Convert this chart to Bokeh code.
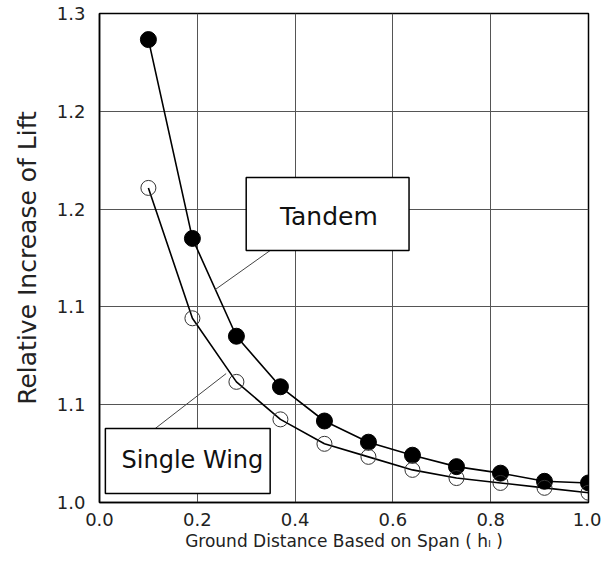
from bokeh.plotting import figure
from bokeh.models import FixedTicker, BoxAnnotation, Label, ColumnDataSource
from bokeh.embed import file_html
from bokeh.resources import INLINE

# ---- data ----
ground_distance = [0.10, 0.19, 0.28, 0.37, 0.46, 0.55, 0.64, 0.73, 0.82, 0.91, 1.00]
tandem_lift = [1.284, 1.162, 1.102, 1.071, 1.050, 1.037, 1.029, 1.022, 1.018, 1.013, 1.012]
single_lift = [1.193, 1.113, 1.074, 1.051, 1.036, 1.028, 1.020, 1.015, 1.012, 1.009, 1.006]

x_ticks = [0.0, 0.2, 0.4, 0.6, 0.8, 1.0]
x_tick_labels = ["0.0", "0.2", "0.4", "0.6", "0.8", "1.0"]
y_ticks = [1.00, 1.06, 1.12, 1.18, 1.24, 1.30]
y_tick_labels = ["1.0", "1.1", "1.1", "1.2", "1.2", "1.3"]

FONT = "DejaVu Sans"

p = figure(width=601, height=563, x_range=(0.0, 1.0), y_range=(1.0, 1.3),
           output_backend="svg", toolbar_location=None,
           min_border_left=99, min_border_right=13, min_border_top=13, min_border_bottom=61)
p.background_fill_color = "white"
p.border_fill_color = "white"
p.outline_line_color = "black"
p.outline_line_width = 1.5

p.xaxis.ticker = FixedTicker(ticks=x_ticks)
p.yaxis.ticker = FixedTicker(ticks=y_ticks)
p.xaxis.major_label_overrides = {t: l for t, l in zip(x_ticks, x_tick_labels)}
p.yaxis.major_label_overrides = {t: l for t, l in zip(y_ticks, y_tick_labels)}

for ax in (p.xaxis[0], p.yaxis[0]):
    ax.major_tick_line_color = None
    ax.minor_tick_line_color = None
    ax.axis_line_color = "black"
    ax.axis_line_width = 1.5
    ax.major_label_text_font = FONT
    ax.major_label_text_font_size = "18px"
    ax.major_label_text_color = "#222222"
    ax.axis_label_text_font = FONT
    ax.axis_label_text_font_style = "normal"
    ax.axis_label_text_color = "#222222"

p.xaxis.axis_label = "Ground Distance Based on Span ( h\u2097 )"
p.xaxis.axis_label_text_font_size = "17px"
p.xaxis.axis_label_standoff = 2
p.xaxis.major_label_standoff = 4
p.yaxis.axis_label = "Relative Increase of Lift"
p.yaxis.axis_label_text_font_size = "25px"
p.yaxis.axis_label_standoff = 12
p.yaxis.major_label_standoff = 8

p.grid.grid_line_color = "#555555"
p.grid.grid_line_width = 1

# ---- series ----
src = ColumnDataSource(dict(x=ground_distance, t=tandem_lift, s=single_lift))
p.line("x", "t", source=src, line_color="black", line_width=1.6)
p.line("x", "s", source=src, line_color="black", line_width=1.6)
p.scatter("x", "t", source=src, size=16, fill_color="black", line_color="black")
p.scatter("x", "s", source=src, size=15, fill_color="white", fill_alpha=0.0,
          line_color="#333333", line_width=1)

# ---- annotations ----
p.segment(x0=[0.349, 0.114], y0=[1.1546, 1.0454], x1=[0.237, 0.259], y1=[1.1307, 1.0791],
          line_color="#444444", line_width=1)

p.add_layout(BoxAnnotation(left=0.300, right=0.633, bottom=1.1546, top=1.1994,
                           fill_color="white", fill_alpha=1.0,
                           line_color="black", line_alpha=1.0, line_width=1.5, level="overlay"))
p.add_layout(BoxAnnotation(left=0.012, right=0.349, bottom=1.0055, top=1.0454,
                           fill_color="white", fill_alpha=1.0,
                           line_color="black", line_alpha=1.0, line_width=1.5, level="overlay"))
p.add_layout(Label(x=0.469, y=1.1755, text="Tandem", text_font=FONT, text_font_size="25px",
                   text_align="center", text_baseline="middle", text_color="#111111",
                   level="overlay"))
p.add_layout(Label(x=0.190, y=1.0258, text="Single Wing", text_font=FONT, text_font_size="24px",
                   text_align="center", text_baseline="middle", text_color="#111111",
                   level="overlay"))

open("out.html", "w").write(file_html(p, INLINE))
